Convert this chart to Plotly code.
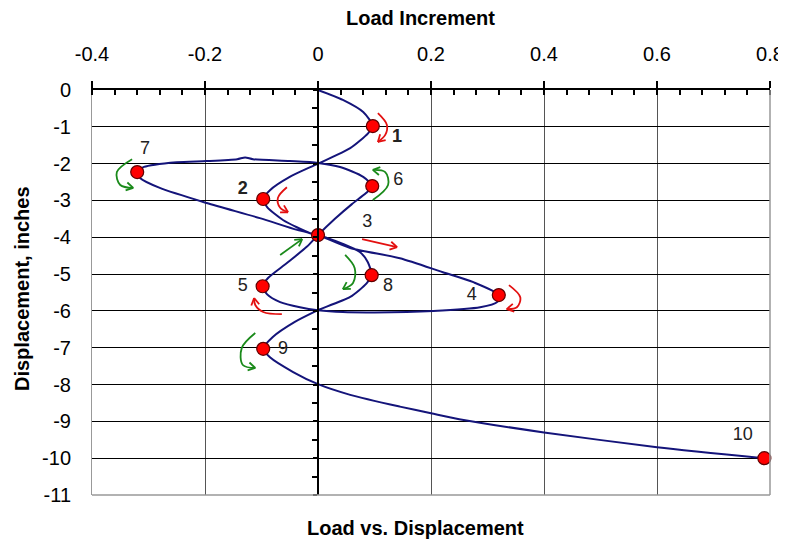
import math
import plotly.graph_objects as go

# ---- data ----
curve_load = [0, 0.044, 0.08, 0.097, 0.089, 0.057, 0.0,
              -0.05, -0.085, -0.097, -0.09, -0.062, -0.014, 0.0,
              0.057, 0.145, 0.221, 0.275, 0.32,
              0.317, 0.287, 0.204, 0.1, 0.044, 0.0,
              -0.032, -0.067, -0.09, -0.098,
              -0.088, -0.055, -0.02, 0.0,
              0.03, 0.06, 0.085, 0.096,
              0.08, 0.039, 0.0,
              -0.05, -0.115, -0.129, -0.143, -0.197, -0.25, -0.308, -0.32,
              -0.315, -0.28, -0.197, -0.103, -0.037, 0.0,
              0.027, 0.074, 0.088, 0.095,
              0.086, 0.057, 0.004, 0.0,
              -0.041, -0.08, -0.097,
              -0.085, -0.044, 0.0,
              0.057, 0.145, 0.2, 0.25, 0.4, 0.6, 0.79]
curve_disp = [0, -0.27, -0.6, -0.98, -1.17, -1.58, -2.0,
              -2.36, -2.72, -2.96, -3.18, -3.53, -3.89, -3.94,
              -4.29, -4.57, -4.95, -5.22, -5.57,
              -5.76, -5.9, -6.0, -6.04, -6.03, -5.98,
              -5.9, -5.76, -5.55, -5.33,
              -5.1, -4.7, -4.26, -3.94,
              -3.5, -3.1, -2.8, -2.61,
              -2.36, -2.09, -1.98,
              -1.93, -1.88, -1.83, -1.88, -1.93, -1.96, -2.09, -2.23,
              -2.39, -2.66, -3.07, -3.48, -3.8, -3.94,
              -4.08, -4.40, -4.67, -5.03,
              -5.25, -5.62, -5.95, -5.98,
              -6.3, -6.71, -7.03,
              -7.26, -7.66, -7.99,
              -8.28, -8.6, -8.78, -8.94, -9.3, -9.7, -10.0]

point_load = [0.097, -0.097, 0.0, 0.32, -0.098, 0.096, -0.32, 0.095, -0.097, 0.79]
point_disp = [-0.98, -2.96, -3.94, -5.57, -5.33, -2.61, -2.23, -5.03, -7.03, -10.0]

label_text = ["<b>1</b>", "<b>2</b>", "3", "4", "5", "6", "7", "8", "9", "10"]
label_load = [0.14, -0.133, 0.087, 0.272, -0.133, 0.142, -0.306, 0.124, -0.062, 0.752]
label_disp = [-1.28, -2.70, -3.61, -5.57, -5.35, -2.45, -1.62, -5.35, -7.04, -9.38]

red_arrows = [
    ([0.106, 0.122, 0.119, 0.106], [-0.63, -0.95, -1.22, -1.41]),
    ([-0.055, -0.071, -0.067, -0.053], [-2.64, -2.93, -3.2, -3.32]),
    ([0.078, 0.14], [-4.05, -4.27]),
    ([0.338, 0.358, 0.352, 0.334], [-5.30, -5.63, -5.90, -5.95]),
    ([-0.064, -0.097, -0.111, -0.113], [-6.09, -6.03, -5.84, -5.65]),
]
green_arrows = [
    ([-0.067, -0.028], [-4.48, -4.05]),
    ([0.097, 0.124, 0.119, 0.097], [-2.99, -2.58, -2.23, -2.17]),
    ([-0.329, -0.356, -0.350, -0.327], [-1.88, -2.23, -2.58, -2.66]),
    ([0.048, 0.065, 0.062, 0.044], [-4.48, -4.84, -5.24, -5.41]),
    ([-0.111, -0.135, -0.133, -0.111], [-6.6, -7.01, -7.47, -7.55]),
]

x_ticks = [-0.4, -0.2, 0, 0.2, 0.4, 0.6, 0.8]
x_ticklabels = ["-0.4", "-0.2", "0", "0.2", "0.4", "0.6", "0.8"]
y_ticks = [0, -1, -2, -3, -4, -5, -6, -7, -8, -9, -10, -11]
y_ticklabels = ["0", "-1", "-2", "-3", "-4", "-5", "-6", "-7", "-8", "-9", "-10", "-11"]

# ---- layout geometry (page body has an 8px default margin) ----
OFF = 8
W, H = 786 - OFF, 545 - OFF
ML, MR, MT, MB = 92 - OFF, 16, 90 - OFF, 50
XR = [-0.4, 0.8]
YR = [-11, 0]
PW, PH = W - ML - MR, H - MT - MB
SX = PW / (XR[1] - XR[0])   # px per x unit
SY = PH / (YR[1] - YR[0])   # px per y unit


def paper_x(px):
    return (px - OFF - ML) / PW


def paper_y(py):
    return 1 - (py - OFF - MT) / PH


FONT = "Arial, Liberation Sans, sans-serif"

fig = go.Figure()

fig.add_trace(go.Scatter(x=curve_load, y=curve_disp, mode="lines",
                         line=dict(color="#14147a", width=2, shape="spline", smoothing=0.7),
                         hoverinfo="skip", showlegend=False))


def add_arrow(xs, ys, color):
    fig.add_trace(go.Scatter(x=xs, y=ys, mode="lines",
                             line=dict(color=color, width=1.8, shape="spline", smoothing=1.0),
                             hoverinfo="skip", showlegend=False))
    # arrowhead computed in pixel space
    dx = (xs[-1] - xs[-2]) * SX
    dy = (ys[-1] - ys[-2]) * SY
    ang = math.atan2(dy, dx)
    L = 8
    hx, hy = [], []
    for da in (math.radians(150), math.radians(-150)):
        a = ang + da
        hx += [xs[-1] + L * math.cos(a) / SX, xs[-1], None]
        hy += [ys[-1] + L * math.sin(a) / SY, ys[-1], None]
    fig.add_trace(go.Scatter(x=hx, y=hy, mode="lines",
                             line=dict(color=color, width=1.8),
                             hoverinfo="skip", showlegend=False))


for xs, ys in red_arrows:
    add_arrow(xs, ys, "#e31010")
for xs, ys in green_arrows:
    add_arrow(xs, ys, "#1a8a1a")

fig.add_trace(go.Scatter(x=point_load, y=point_disp, mode="markers",
                         marker=dict(size=13, color="#ff0000", line=dict(color="#600000", width=1.2)),
                         hoverinfo="skip", showlegend=False, cliponaxis=False))

fig.add_trace(go.Scatter(x=label_load, y=label_disp, mode="text", text=label_text,
                         textfont=dict(family=FONT, size=18, color="#222222"),
                         hoverinfo="skip", showlegend=False))

# invisible trace to anchor the y-axis drawn at x = 0
fig.add_trace(go.Scatter(x=[0], y=[0], yaxis="y2", mode="markers",
                         marker=dict(opacity=0), hoverinfo="skip", showlegend=False))

fig.update_layout(
    width=W, height=H,
    margin=dict(l=ML, r=MR, t=MT, b=MB, autoexpand=False),
    paper_bgcolor="white", plot_bgcolor="white",
    font=dict(family=FONT, color="black"),
    xaxis=dict(range=XR, side="top", tickvals=x_ticks, ticktext=x_ticklabels,
               tickfont=dict(size=20), ticks="outside", ticklen=7, tickwidth=2,
               tickcolor="black", ticklabelstandoff=12, automargin=False,
               showline=True, linecolor="black", linewidth=2,
               showgrid=True, gridcolor="#555555", gridwidth=1, zeroline=False,
               minor=dict(dtick=0.04, tick0=0, ticks="inside", ticklen=5, tickwidth=2,
                          tickcolor="black", showgrid=False)),
    yaxis=dict(range=YR, tickvals=y_ticks, ticktext=y_ticklabels, tickfont=dict(size=20),
               ticks="", ticklabelstandoff=16, automargin=False,
               showline=True, linecolor="#999999", linewidth=1,
               showgrid=True, gridcolor="black", gridwidth=1, zeroline=False),
    yaxis2=dict(overlaying="y", anchor="free", position=(0 - XR[0]) / (XR[1] - XR[0]),
                range=YR, showline=True, linecolor="black", linewidth=2, automargin=False,
                ticks="outside", ticklen=4, tickwidth=2, tickcolor="black", dtick=1,
                showticklabels=False, showgrid=False, zeroline=False,
                minor=dict(dtick=0.5, ticks="outside", ticklen=5, tickwidth=2, tickcolor="black")),
    shapes=[
        dict(type="line", xref="paper", yref="paper", x0=0, x1=1, y0=0, y1=0,
             line=dict(color="#999999", width=1.5)),
        dict(type="line", xref="paper", yref="paper", x0=1, x1=1, y0=0, y1=1,
             line=dict(color="#999999", width=1.5)),
    ],
    annotations=[
        dict(text="<b>Load Increment</b>", xref="paper", yref="paper",
             x=paper_x(420), y=paper_y(18),
             showarrow=False, font=dict(size=20, family=FONT), xanchor="center", yanchor="middle"),
        dict(text="<b>Load vs. Displacement</b>", xref="paper", yref="paper",
             x=paper_x(415), y=paper_y(528),
             showarrow=False, font=dict(size=20, family=FONT), xanchor="center", yanchor="middle"),
        dict(text="<b>Displacement, inches</b>", xref="paper", yref="paper",
             x=paper_x(22), y=paper_y(289),
             showarrow=False, textangle=-90, font=dict(size=20, family=FONT),
             xanchor="center", yanchor="middle"),
    ],
)

fig.write_html("out.html")
